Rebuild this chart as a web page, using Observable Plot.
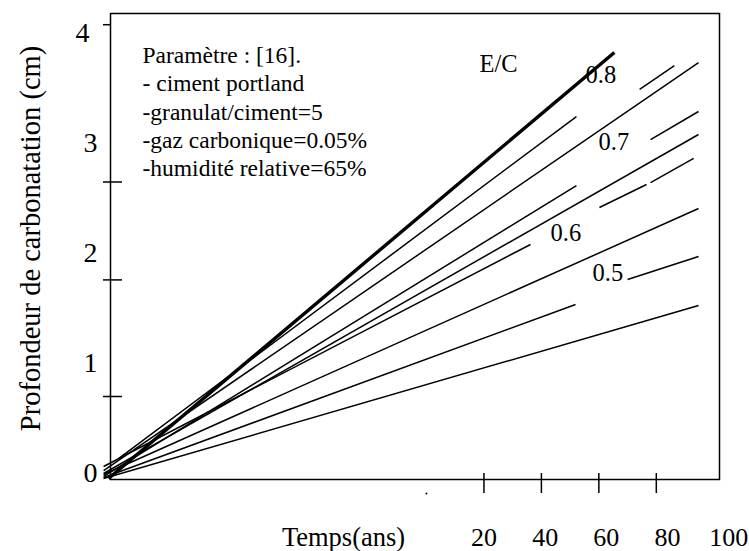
<!DOCTYPE html>
<html><head><meta charset="utf-8">
<script src="https://cdn.jsdelivr.net/npm/d3@7"></script>
<script src="https://cdn.jsdelivr.net/npm/@observablehq/plot@0.6"></script>
<style>body{margin:0;background:#fff;overflow:hidden} svg{display:block} svg text{font-family:'Liberation Serif','Times New Roman',serif !important;}</style>
</head><body><div id="chart"></div>
<script>
// ---- data ----
const timeTicks = [20, 40, 60, 80];
const timeLabels = [20, 40, 60, 80, 100];
const timeOriginTick = [0];
const depthLabels = [0, 1, 2, 3];
const depthTopLabel = [4];
const depthTicksCrossing = [0.70, 1.76, 2.65];
const depthTickTop = [4.08];

// carbonation lines (time, depth) start and end; first one is the heavy line
const curveT0 = [-110.7, -107.2, -112.4, -112.4, -112.4, -112.4, -112.4, -112.4, -112.4];
const curveD0 = [-0.045, 0.136, 0.027, -0.027, 0.0, 0.064, -0.009, -0.036, -0.045];
const curveT1 = [65.4, 52.2, 94.7, 52.2, 94.7, 36.2, 94.7, 51.9, 94.7];
const curveD1 = [3.827, 3.245, 3.736, 2.618, 3.082, 2.082, 2.409, 1.536, 1.527];

// short line pieces (visible around the labels)
const pieceT0 = [74.2, 78.0, 60.2, 78.0, 70.0];
const pieceD0 = [3.491, 3.036, 2.418, 2.645, 1.764];
const pieceT1 = [86.3, 94.7, 76.6, 93.0, 94.7];
const pieceD1 = [3.709, 3.291, 2.627, 2.864, 1.973];

const ecTitle = "E/C";
const ecLabels = ["0.8", "0.7", "0.6", "0.5"];
const paramLines = ["Paramètre : [16].", "- ciment portland", "-granulat/ciment=5", "-gaz carbonique=0.05%", "-humidité relative=65%"];
const xTitle = "Temps(ans)";
const yTitle = "Profondeur de carbonatation (cm)";

// ---- tables ----
const curves = curveT0.map((t0, i) => ({t0, d0: curveD0[i], t1: curveT1[i], d1: curveD1[i], i}));
const pieces = pieceT0.map((t0, i) => ({t0, d0: pieceD0[i], t1: pieceT1[i], d1: pieceD1[i]}));

const labelSpread = 1.065;
const ecOffsets = [[475, 62], [488, 128.5], [440, 219.5], [482, 259.5]];

const font = "'Liberation Serif', 'Times New Roman', serif";

const chart = Plot.plot({
  width: 749,
  height: 551,
  marginLeft: 110,
  marginRight: 30,
  marginTop: 13,
  marginBottom: 72,
  style: `font-family: ${font}; background: white; color: black; overflow: visible;`,
  x: {domain: [-110, 102], axis: null},
  y: {domain: [-0.0545, 4.1818], axis: null},
  marks: [
    Plot.frame({stroke: "black", strokeWidth: 1.5}),
    Plot.link(curves.filter(d => d.i !== 0), {x1: "t0", y1: "d0", x2: "t1", y2: "d1", stroke: "black", strokeWidth: 1.5}),
    Plot.link(curves.filter(d => d.i === 0), {x1: "t0", y1: "d0", x2: "t1", y2: "d1", stroke: "black", strokeWidth: 3.4}),
    Plot.link(pieces, {x1: "t0", y1: "d0", x2: "t1", y2: "d1", stroke: "black", strokeWidth: 1.5}),
    // axes ticks
    Plot.axisY(depthTicksCrossing, {anchor: "left", tickSize: 19, dx: 12, fill: "none", label: null, strokeWidth: 1.5}),
    Plot.axisY(depthTickTop, {anchor: "left", tickSize: 7, fill: "none", label: null, strokeWidth: 1.5}),
    Plot.axisX(timeTicks, {anchor: "bottom", tickSize: 20, dy: -6, fill: "none", label: null, strokeWidth: 1.5}),
    Plot.dot(timeOriginTick, {x: d => d, frameAnchor: "bottom", dy: 14, r: 1, fill: "black", stroke: null}),
    // tick labels
    Plot.text(depthLabels, {y: d => d, text: d => String(d), frameAnchor: "left", dx: -13, textAnchor: "end", lineAnchor: "middle", fontSize: 28, fontFamily: font, fill: "black"}),
    Plot.text(depthTopLabel, {y: d => d, text: d => String(d), frameAnchor: "left", dx: -21, textAnchor: "end", lineAnchor: "middle", fontSize: 28, fontFamily: font, fill: "black"}),
    Plot.text(timeLabels, {x: d => 20 + (d - 20) * labelSpread, text: d => String(d), frameAnchor: "bottom", dy: 58, textAnchor: "middle", lineAnchor: "middle", fontSize: 26, fontFamily: font, fill: "black"}),
    // titles
    Plot.text([xTitle], {text: d => d, frameAnchor: "bottom-left", dx: 233, dy: 58, textAnchor: "middle", lineAnchor: "middle", fontSize: 26.5, fontFamily: font, fill: "black"}),
    Plot.text([yTitle], {text: d => d, frameAnchor: "left", dx: -80, dy: -8, rotate: -90, textAnchor: "middle", lineAnchor: "middle", fontSize: 28.5, fontFamily: font, fill: "black"}),
    // legend text
    Plot.text([paramLines.join("\n")], {text: d => d, frameAnchor: "top-left", dx: 32, dy: 29.3, textAnchor: "start", lineAnchor: "top", lineHeight: 1.207, fontSize: 23.5, fontFamily: font, fill: "black"}),
    Plot.text([ecTitle], {text: d => d, frameAnchor: "top-left", dx: 369, dy: 50.5, textAnchor: "start", lineAnchor: "middle", fontSize: 24.5, fontFamily: font, fill: "black"}),
    ...ecLabels.map((lab, i) => Plot.text([lab], {text: d => d, frameAnchor: "top-left", dx: ecOffsets[i][0], dy: ecOffsets[i][1], textAnchor: "start", lineAnchor: "middle", fontSize: 24.5, fontFamily: font, fill: "black"}))
  ]
});
document.getElementById("chart").appendChild(chart);
</script>
</body></html>
